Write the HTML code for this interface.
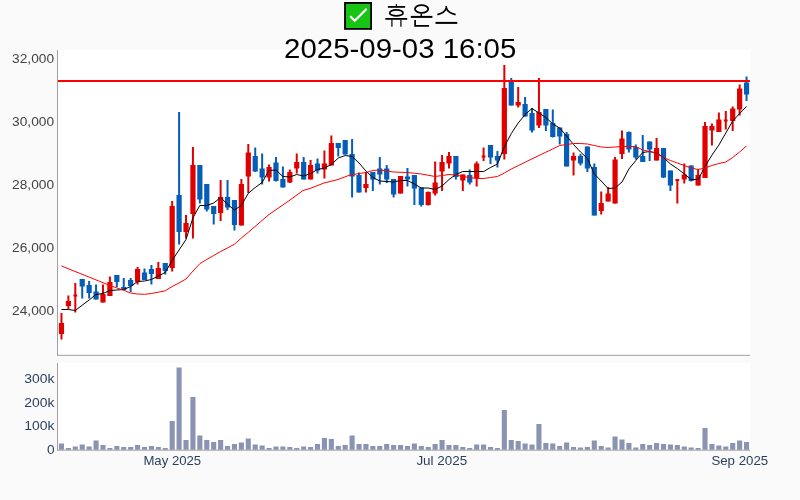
<!DOCTYPE html>
<html lang="ko"><head><meta charset="utf-8"><title>휴온스 2025-09-03 16:05</title>
<style>
html,body{margin:0;padding:0;background:#fafafa;}
body{width:800px;height:500px;overflow:hidden;font-family:"Liberation Sans",sans-serif;}
svg{display:block;will-change:transform;}
text{font-family:"Liberation Sans",sans-serif;}
.yt{font-size:12.7px;fill:#444;text-anchor:end;}
.vt{font-size:12.7px;fill:#2a3f5f;text-anchor:end;}
.xt{font-size:12.7px;fill:#2a3f5f;text-anchor:middle;}
.tt{font-size:27.5px;fill:#000;text-anchor:middle;}
</style></head><body>
<svg width="800" height="500" viewBox="0 0 800 500">
<rect x="0" y="0" width="800" height="500" fill="#fafafa"/>
<rect x="58" y="50" width="692" height="305" fill="#fff"/>
<rect x="58" y="363" width="692" height="87" fill="#fff"/>
<g fill="#8a93b1">
<rect x="58.91" y="443.5" width="5.1" height="6.3"/>
<rect x="65.83" y="448" width="5.1" height="1.8"/>
<rect x="72.75" y="446.5" width="5.1" height="3.3"/>
<rect x="79.67" y="444.5" width="5.1" height="5.3"/>
<rect x="86.59" y="446.5" width="5.1" height="3.3"/>
<rect x="93.51" y="440.5" width="5.1" height="9.3"/>
<rect x="100.43" y="445" width="5.1" height="4.8"/>
<rect x="107.35" y="448" width="5.1" height="1.8"/>
<rect x="114.27" y="446" width="5.1" height="3.8"/>
<rect x="121.19" y="447" width="5.1" height="2.8"/>
<rect x="128.11" y="447" width="5.1" height="2.8"/>
<rect x="135.03" y="445" width="5.1" height="4.8"/>
<rect x="141.95" y="447" width="5.1" height="2.8"/>
<rect x="148.87" y="446" width="5.1" height="3.8"/>
<rect x="155.79" y="447" width="5.1" height="2.8"/>
<rect x="162.71" y="448" width="5.1" height="1.8"/>
<rect x="169.63" y="421" width="5.1" height="28.8"/>
<rect x="176.55" y="367.5" width="5.1" height="82.3"/>
<rect x="183.47" y="440" width="5.1" height="9.8"/>
<rect x="190.39" y="397" width="5.1" height="52.8"/>
<rect x="197.31" y="435.5" width="5.1" height="14.3"/>
<rect x="204.23" y="440" width="5.1" height="9.8"/>
<rect x="211.15" y="442" width="5.1" height="7.8"/>
<rect x="218.07" y="440" width="5.1" height="9.8"/>
<rect x="224.99" y="446" width="5.1" height="3.8"/>
<rect x="231.91" y="444" width="5.1" height="5.8"/>
<rect x="238.83" y="442.5" width="5.1" height="7.3"/>
<rect x="245.75" y="438.5" width="5.1" height="11.3"/>
<rect x="252.67" y="444.5" width="5.1" height="5.3"/>
<rect x="259.59" y="445.5" width="5.1" height="4.3"/>
<rect x="266.51" y="448" width="5.1" height="1.8"/>
<rect x="273.43" y="446.5" width="5.1" height="3.3"/>
<rect x="280.35" y="446.5" width="5.1" height="3.3"/>
<rect x="287.27" y="447" width="5.1" height="2.8"/>
<rect x="294.19" y="448" width="5.1" height="1.8"/>
<rect x="301.11" y="446.5" width="5.1" height="3.3"/>
<rect x="308.03" y="447" width="5.1" height="2.8"/>
<rect x="314.95" y="444" width="5.1" height="5.8"/>
<rect x="321.87" y="438" width="5.1" height="11.8"/>
<rect x="328.79" y="439" width="5.1" height="10.8"/>
<rect x="335.71" y="446" width="5.1" height="3.8"/>
<rect x="342.63" y="445" width="5.1" height="4.8"/>
<rect x="349.55" y="435.5" width="5.1" height="14.3"/>
<rect x="356.47" y="444" width="5.1" height="5.8"/>
<rect x="363.39" y="444" width="5.1" height="5.8"/>
<rect x="370.31" y="446" width="5.1" height="3.8"/>
<rect x="377.23" y="446" width="5.1" height="3.8"/>
<rect x="384.15" y="444" width="5.1" height="5.8"/>
<rect x="391.07" y="445" width="5.1" height="4.8"/>
<rect x="397.99" y="445" width="5.1" height="4.8"/>
<rect x="404.91" y="446" width="5.1" height="3.8"/>
<rect x="411.83" y="443.5" width="5.1" height="6.3"/>
<rect x="418.75" y="446" width="5.1" height="3.8"/>
<rect x="425.67" y="447" width="5.1" height="2.8"/>
<rect x="432.59" y="444" width="5.1" height="5.8"/>
<rect x="439.51" y="440" width="5.1" height="9.8"/>
<rect x="446.43" y="445" width="5.1" height="4.8"/>
<rect x="453.35" y="445" width="5.1" height="4.8"/>
<rect x="460.27" y="447" width="5.1" height="2.8"/>
<rect x="467.19" y="448" width="5.1" height="1.8"/>
<rect x="474.11" y="444.5" width="5.1" height="5.3"/>
<rect x="481.03" y="444.5" width="5.1" height="5.3"/>
<rect x="487.95" y="447" width="5.1" height="2.8"/>
<rect x="494.87" y="448" width="5.1" height="1.8"/>
<rect x="501.79" y="410" width="5.1" height="39.8"/>
<rect x="508.71" y="440" width="5.1" height="9.8"/>
<rect x="515.63" y="441" width="5.1" height="8.8"/>
<rect x="522.55" y="443.5" width="5.1" height="6.3"/>
<rect x="529.47" y="444.5" width="5.1" height="5.3"/>
<rect x="536.39" y="424" width="5.1" height="25.8"/>
<rect x="543.31" y="443" width="5.1" height="6.8"/>
<rect x="550.23" y="443.5" width="5.1" height="6.3"/>
<rect x="557.15" y="446" width="5.1" height="3.8"/>
<rect x="564.07" y="442.5" width="5.1" height="7.3"/>
<rect x="570.99" y="447" width="5.1" height="2.8"/>
<rect x="577.91" y="447.5" width="5.1" height="2.3"/>
<rect x="584.83" y="447" width="5.1" height="2.8"/>
<rect x="591.75" y="440.5" width="5.1" height="9.3"/>
<rect x="598.67" y="446" width="5.1" height="3.8"/>
<rect x="605.59" y="447.5" width="5.1" height="2.3"/>
<rect x="612.51" y="436.5" width="5.1" height="13.3"/>
<rect x="619.43" y="439.5" width="5.1" height="10.3"/>
<rect x="626.35" y="443" width="5.1" height="6.8"/>
<rect x="633.27" y="447.5" width="5.1" height="2.3"/>
<rect x="640.19" y="444" width="5.1" height="5.8"/>
<rect x="647.11" y="445" width="5.1" height="4.8"/>
<rect x="654.03" y="443" width="5.1" height="6.8"/>
<rect x="660.95" y="444" width="5.1" height="5.8"/>
<rect x="667.87" y="444.5" width="5.1" height="5.3"/>
<rect x="674.79" y="445" width="5.1" height="4.8"/>
<rect x="681.71" y="446.5" width="5.1" height="3.3"/>
<rect x="688.63" y="447.5" width="5.1" height="2.3"/>
<rect x="695.55" y="448" width="5.1" height="1.8"/>
<rect x="702.47" y="428" width="5.1" height="21.8"/>
<rect x="709.39" y="444" width="5.1" height="5.8"/>
<rect x="716.31" y="445.5" width="5.1" height="4.3"/>
<rect x="723.23" y="446.5" width="5.1" height="3.3"/>
<rect x="730.15" y="443" width="5.1" height="6.8"/>
<rect x="737.07" y="440.5" width="5.1" height="9.3"/>
<rect x="743.99" y="442" width="5.1" height="7.8"/>
</g>
<g fill="#e00000">
<rect x="60.46" y="313" width="2" height="26.5"/><rect x="58.86" y="323" width="5.2" height="11"/>
<rect x="67.38" y="295.5" width="2" height="13.5"/><rect x="65.78" y="301" width="5.2" height="5"/>
<rect x="74.3" y="283" width="2" height="29.5"/><rect x="73.4" y="294.5" width="3.8" height="2"/>
<rect x="101.98" y="284.5" width="2" height="18"/><rect x="100.38" y="294" width="5.2" height="8.5"/>
<rect x="108.9" y="276.5" width="2" height="19.5"/><rect x="107.3" y="282" width="5.2" height="14"/>
<rect x="136.58" y="267" width="2" height="17.5"/><rect x="134.98" y="269" width="5.2" height="13"/>
<rect x="157.34" y="262" width="2" height="17"/><rect x="155.74" y="268" width="5.2" height="11"/>
<rect x="171.18" y="201" width="2" height="70.5"/><rect x="169.58" y="206" width="5.2" height="62"/>
<rect x="185.02" y="215" width="2" height="23.5"/><rect x="183.42" y="223" width="5.2" height="9"/>
<rect x="191.94" y="147" width="2" height="91.5"/><rect x="190.34" y="165" width="5.2" height="49"/>
<rect x="219.62" y="180" width="2" height="41"/><rect x="218.02" y="197" width="5.2" height="16"/>
<rect x="240.38" y="179" width="2" height="46.5"/><rect x="238.78" y="184" width="5.2" height="41.5"/>
<rect x="247.3" y="144" width="2" height="49"/><rect x="245.7" y="152.5" width="5.2" height="24"/>
<rect x="268.06" y="164.5" width="2" height="17"/><rect x="266.46" y="167" width="5.2" height="10.5"/>
<rect x="288.82" y="169.5" width="2" height="13.5"/><rect x="287.22" y="172" width="5.2" height="10.5"/>
<rect x="295.74" y="153.5" width="2" height="20"/><rect x="294.14" y="162" width="5.2" height="6.5"/>
<rect x="309.58" y="160" width="2" height="19.5"/><rect x="307.98" y="165" width="5.2" height="14.5"/>
<rect x="323.42" y="150.5" width="2" height="28"/><rect x="321.82" y="163.5" width="5.2" height="6"/>
<rect x="330.34" y="135.5" width="2" height="30"/><rect x="328.74" y="143" width="5.2" height="22.5"/>
<rect x="364.94" y="172" width="2" height="20.5"/><rect x="363.34" y="184" width="5.2" height="4"/>
<rect x="399.54" y="176" width="2" height="17.5"/><rect x="397.94" y="176" width="5.2" height="17.5"/>
<rect x="427.22" y="191.5" width="2" height="14"/><rect x="425.62" y="192" width="5.2" height="13"/>
<rect x="434.14" y="161.5" width="2" height="34"/><rect x="432.54" y="182.5" width="5.2" height="11"/>
<rect x="441.06" y="155" width="2" height="36"/><rect x="439.46" y="162" width="5.2" height="9.5"/>
<rect x="447.98" y="152" width="2" height="16.5"/><rect x="446.38" y="156" width="5.2" height="7.5"/>
<rect x="461.82" y="174.5" width="2" height="16.5"/><rect x="460.22" y="174.5" width="5.2" height="6"/>
<rect x="475.66" y="161.5" width="2" height="25"/><rect x="474.06" y="163.5" width="5.2" height="14.5"/>
<rect x="482.58" y="147.5" width="2" height="13.5"/><rect x="481.68" y="155.5" width="3.8" height="2"/>
<rect x="503.34" y="65" width="2" height="94.5"/><rect x="501.74" y="88" width="5.2" height="66"/>
<rect x="517.18" y="87" width="2" height="20.5"/><rect x="515.58" y="102" width="5.2" height="3.5"/>
<rect x="537.94" y="78" width="2" height="50"/><rect x="536.34" y="112" width="5.2" height="13.5"/>
<rect x="572.54" y="152.5" width="2" height="23"/><rect x="570.94" y="156" width="5.2" height="4.5"/>
<rect x="600.22" y="191.5" width="2" height="23"/><rect x="598.62" y="203" width="5.2" height="8"/>
<rect x="607.14" y="187" width="2" height="14.5"/><rect x="605.54" y="193.5" width="5.2" height="8"/>
<rect x="614.06" y="157" width="2" height="46.5"/><rect x="612.46" y="159.5" width="5.2" height="44"/>
<rect x="620.98" y="130.5" width="2" height="28.5"/><rect x="619.38" y="138.5" width="5.2" height="15.5"/>
<rect x="655.58" y="138" width="2" height="22.5"/><rect x="653.98" y="148" width="5.2" height="12.5"/>
<rect x="676.34" y="179" width="2" height="24.5"/><rect x="675.44" y="179" width="3.8" height="2"/>
<rect x="683.26" y="163.5" width="2" height="20"/><rect x="681.66" y="174.5" width="5.2" height="5"/>
<rect x="697.1" y="169" width="2" height="16.5"/><rect x="695.5" y="175" width="5.2" height="10.5"/>
<rect x="704.02" y="122" width="2" height="56"/><rect x="702.42" y="126" width="5.2" height="52"/>
<rect x="710.94" y="123.5" width="2" height="22"/><rect x="709.34" y="126" width="5.2" height="4.5"/>
<rect x="717.86" y="112.5" width="2" height="19.5"/><rect x="716.26" y="119.5" width="5.2" height="12.5"/>
<rect x="724.78" y="111" width="2" height="18.5"/><rect x="723.88" y="119.5" width="3.8" height="2"/>
<rect x="731.7" y="106.5" width="2" height="24.5"/><rect x="730.1" y="108.5" width="5.2" height="12.5"/>
<rect x="738.62" y="84.5" width="2" height="31"/><rect x="737.02" y="88.5" width="5.2" height="21"/>
</g>
<g fill="#065db8">
<rect x="81.22" y="279" width="2" height="19.5"/><rect x="79.62" y="279" width="5.2" height="7.5"/>
<rect x="88.14" y="281" width="2" height="17.5"/><rect x="86.54" y="285" width="5.2" height="8"/>
<rect x="95.06" y="284.5" width="2" height="15"/><rect x="93.46" y="291.5" width="5.2" height="8"/>
<rect x="115.82" y="275" width="2" height="12"/><rect x="114.22" y="275" width="5.2" height="7"/>
<rect x="122.74" y="278" width="2" height="12"/><rect x="121.14" y="287" width="5.2" height="3"/>
<rect x="129.66" y="278" width="2" height="14"/><rect x="128.06" y="280" width="5.2" height="6"/>
<rect x="143.5" y="268.5" width="2" height="11.5"/><rect x="141.9" y="272.5" width="5.2" height="7.5"/>
<rect x="150.42" y="265" width="2" height="19.5"/><rect x="148.82" y="269" width="5.2" height="5"/>
<rect x="164.26" y="263" width="2" height="11.5"/><rect x="162.66" y="263" width="5.2" height="8"/>
<rect x="178.1" y="112" width="2" height="132.5"/><rect x="176.5" y="195" width="5.2" height="37"/>
<rect x="198.86" y="165" width="2" height="38.5"/><rect x="197.26" y="165" width="5.2" height="34.5"/>
<rect x="205.78" y="184" width="2" height="27.5"/><rect x="204.18" y="184" width="5.2" height="25.5"/>
<rect x="212.7" y="206" width="2" height="18.5"/><rect x="211.1" y="206" width="5.2" height="8"/>
<rect x="226.54" y="180" width="2" height="30"/><rect x="224.94" y="197" width="5.2" height="10.5"/>
<rect x="233.46" y="200" width="2" height="30.5"/><rect x="231.86" y="200" width="5.2" height="25"/>
<rect x="254.22" y="147.5" width="2" height="24.5"/><rect x="252.62" y="156" width="5.2" height="15.5"/>
<rect x="261.14" y="153.5" width="2" height="31"/><rect x="259.54" y="168.5" width="5.2" height="9"/>
<rect x="274.98" y="157" width="2" height="24.5"/><rect x="273.38" y="162.5" width="5.2" height="18.5"/>
<rect x="281.9" y="166.5" width="2" height="21"/><rect x="280.3" y="179" width="5.2" height="8.5"/>
<rect x="302.66" y="157" width="2" height="22.5"/><rect x="301.06" y="162" width="5.2" height="17.5"/>
<rect x="316.5" y="158.5" width="2" height="15"/><rect x="314.9" y="163.5" width="5.2" height="7"/>
<rect x="337.26" y="143" width="2" height="13.5"/><rect x="335.66" y="143" width="5.2" height="5"/>
<rect x="344.18" y="140" width="2" height="14.5"/><rect x="342.58" y="140" width="5.2" height="14.5"/>
<rect x="351.1" y="139" width="2" height="58.5"/><rect x="349.5" y="154" width="5.2" height="22.5"/>
<rect x="358.02" y="172.5" width="2" height="20"/><rect x="356.42" y="175" width="5.2" height="17.5"/>
<rect x="371.86" y="172" width="2" height="19"/><rect x="370.26" y="172" width="5.2" height="7.5"/>
<rect x="378.78" y="157" width="2" height="27.5"/><rect x="377.18" y="168.5" width="5.2" height="6"/>
<rect x="385.7" y="165" width="2" height="18"/><rect x="384.1" y="168.5" width="5.2" height="11"/>
<rect x="392.62" y="179" width="2" height="18.5"/><rect x="391.02" y="179" width="5.2" height="15.5"/>
<rect x="406.46" y="168" width="2" height="18.5"/><rect x="404.86" y="176.5" width="5.2" height="3"/>
<rect x="413.38" y="175" width="2" height="30"/><rect x="411.78" y="175" width="5.2" height="13.5"/>
<rect x="420.3" y="187.5" width="2" height="19"/><rect x="418.7" y="187.5" width="5.2" height="17.5"/>
<rect x="454.9" y="156" width="2" height="23.5"/><rect x="453.3" y="156" width="5.2" height="21"/>
<rect x="468.74" y="169.5" width="2" height="15"/><rect x="467.14" y="175" width="5.2" height="7.5"/>
<rect x="489.5" y="145" width="2" height="19"/><rect x="487.9" y="145" width="5.2" height="12.5"/>
<rect x="496.42" y="151" width="2" height="16.5"/><rect x="494.82" y="156" width="5.2" height="4.5"/>
<rect x="510.26" y="78" width="2" height="27.5"/><rect x="508.66" y="82" width="5.2" height="23.5"/>
<rect x="524.1" y="97" width="2" height="19.5"/><rect x="522.5" y="104" width="5.2" height="12.5"/>
<rect x="531.02" y="108" width="2" height="24.5"/><rect x="529.42" y="113" width="5.2" height="17.5"/>
<rect x="544.86" y="109" width="2" height="22"/><rect x="543.26" y="109" width="5.2" height="16.5"/>
<rect x="551.78" y="109.5" width="2" height="28"/><rect x="550.18" y="123" width="5.2" height="14"/>
<rect x="558.7" y="127.5" width="2" height="17"/><rect x="557.1" y="127.5" width="5.2" height="9"/>
<rect x="565.62" y="132" width="2" height="34.5"/><rect x="564.02" y="134" width="5.2" height="32.5"/>
<rect x="579.46" y="154" width="2" height="11.5"/><rect x="577.86" y="156" width="5.2" height="7.5"/>
<rect x="586.38" y="146.5" width="2" height="25.5"/><rect x="584.78" y="146.5" width="5.2" height="22"/>
<rect x="593.3" y="163.5" width="2" height="52"/><rect x="591.7" y="167" width="5.2" height="48.5"/>
<rect x="627.9" y="131.5" width="2" height="21"/><rect x="626.3" y="132" width="5.2" height="17.5"/>
<rect x="634.82" y="144.5" width="2" height="15"/><rect x="633.22" y="147" width="5.2" height="10.5"/>
<rect x="641.74" y="135" width="2" height="27"/><rect x="640.14" y="156" width="5.2" height="6"/>
<rect x="648.66" y="141.5" width="2" height="19.5"/><rect x="647.06" y="141.5" width="5.2" height="8"/>
<rect x="662.5" y="148" width="2" height="30"/><rect x="660.9" y="148" width="5.2" height="29.5"/>
<rect x="669.42" y="170.5" width="2" height="20.5"/><rect x="667.82" y="170.5" width="5.2" height="15"/>
<rect x="690.18" y="165.5" width="2" height="16"/><rect x="688.58" y="165.5" width="5.2" height="15.5"/>
<rect x="745.54" y="76.5" width="2" height="24.5"/><rect x="743.94" y="82.5" width="5.2" height="12"/>
</g>
<polyline points="61.5,309.5 68.4,309.5 75.3,310.5 82.2,305.2 89.1,300 96,294.5 103,293.5 109.9,290.5 116.8,290 123.7,289.5 130.6,286.5 137.5,281.5 144.5,281 151.4,279.5 158.3,276 165.2,272.5 172.1,260.5 179,250 186,239.5 192.9,218 199.8,205.5 206.7,205.5 213.7,203 220.6,197.5 227.5,204.3 234.4,210 241.4,205.3 248.3,193.3 255.2,187.5 262.1,182.5 269,170.5 276,170 282.9,176.5 289.8,177 296.7,174.5 303.7,176 310.6,173.5 317.5,169.5 324.4,168 331.3,164.5 338.3,158 345.2,155.5 352.1,156.5 359,163 365.9,171 372.9,177.5 379.8,181 386.7,181.5 393.6,182 400.5,180.5 407.5,180.5 414.4,184 421.3,188 428.2,188 435.1,189.5 442.1,186 449,179.5 455.9,174.5 462.8,171.5 469.7,171.5 476.7,171.5 483.6,171.5 490.5,167.5 497.4,164 504.3,147 511.3,133.5 518.2,123 525.2,114.5 532,108.5 539,113 545.9,117.5 552.8,124 559.7,128 566.6,136 573.5,144.5 580.5,152 587.4,158.5 594.3,174 601.2,181 608.1,188.5 615.1,188 622,182 628.9,169 635.8,160.5 642.7,152.5 649.7,151.5 656.6,153 663.5,157.5 670.4,164 677.3,168.5 684.3,174 691.2,179.5 698.1,179.5 705,166.5 712,155 718.9,145 725.8,133 732.7,121 739.6,113.5 746.5,106.5" fill="none" stroke="#000" stroke-width="1" stroke-linejoin="round"/>
<polyline points="61.5,266 110,285.5 123.7,290.3 130.6,293 137.5,294 144.5,294.3 151.4,293.5 158.3,292.2 165.2,290.8 172.1,286.5 179,283 186,279 193,271 200,263.5 206.7,259.5 213.7,255.5 220.6,251.5 227.5,248 234.4,244.2 241.4,238 248.3,232.3 269,214.5 290,200 303,190.5 310,188.5 324,183 338,179.5 350,175 365.9,172.5 372.9,170.5 379.8,170 386.7,171 393.6,172 407.5,172.5 421.3,174 435.1,176.5 442.1,175.5 449,174.5 455.9,175 462.8,176.5 469.7,177.5 476.7,178.5 483.6,178.5 490.5,177.5 497.4,176.5 504.3,173 511.3,169 518.2,165.6 525.2,162.2 532,158.9 539,155.5 545.9,152.2 552.8,148.9 559.7,145.5 566.6,144.5 573.5,143.5 580.5,143.5 587.4,144 594.3,145.5 601.2,147 608.1,147.5 615.1,147 622,146.5 628.9,146.5 635.8,146.5 642.7,150 649.7,151.5 656.6,153.5 663.5,157.5 670.4,160.5 677.3,163 684.3,165.5 691.2,168 698.1,169.5 705,168 711.9,165.5 718.9,163.5 725.8,162 732.7,157.5 739.6,152 746.5,146" fill="none" stroke="#ff0000" stroke-width="1" stroke-linejoin="round"/>
<rect x="58" y="80" width="692" height="2" fill="#ff0000"/>
<g fill="#a0a0a0">
<rect x="57" y="50" width="1" height="305.8"/>
<rect x="57" y="354.8" width="693" height="1"/>
<rect x="57" y="363" width="1" height="87.7"/>
<rect x="57" y="449.7" width="693" height="1"/>
</g>
<text class="yt" x="54.1" y="63" textLength="42" lengthAdjust="spacingAndGlyphs">32,000</text>
<text class="yt" x="54.1" y="126" textLength="42" lengthAdjust="spacingAndGlyphs">30,000</text>
<text class="yt" x="54.1" y="189" textLength="42" lengthAdjust="spacingAndGlyphs">28,000</text>
<text class="yt" x="54.1" y="252" textLength="42" lengthAdjust="spacingAndGlyphs">26,000</text>
<text class="yt" x="54.1" y="315" textLength="42" lengthAdjust="spacingAndGlyphs">24,000</text>
<text class="vt" x="54.5" y="383" textLength="30.2" lengthAdjust="spacingAndGlyphs">300k</text>
<text class="vt" x="54.5" y="406.5" textLength="30.2" lengthAdjust="spacingAndGlyphs">200k</text>
<text class="vt" x="54.5" y="430" textLength="30.2" lengthAdjust="spacingAndGlyphs">100k</text>
<text class="vt" x="54.5" y="454" textLength="7.6" lengthAdjust="spacingAndGlyphs">0</text>
<text class="xt" x="172.3" y="464.5" textLength="57.8" lengthAdjust="spacingAndGlyphs">May 2025</text>
<text class="xt" x="441.8" y="464.5" textLength="50.8" lengthAdjust="spacingAndGlyphs">Jul 2025</text>
<text class="xt" x="739.8" y="464.5" textLength="56.8" lengthAdjust="spacingAndGlyphs">Sep 2025</text>
<text class="tt" x="400.2" y="57.8" textLength="232.2" lengthAdjust="spacingAndGlyphs">2025-09-03 16:05</text>
<g role="img" aria-label="✅ 휴온스"><title>✅ 휴온스</title>
<rect x="343.6" y="1.5" width="28.9" height="28.8" fill="#fff" opacity="0.8"/>
<rect x="344.1" y="2" width="27.9" height="27.8" fill="#000"/>
<rect x="346" y="3.9" width="24.2" height="24.1" fill="#18c414"/>
<polyline points="350.75,16.75 354.75,20.75 366,9.5" fill="none" stroke="#fff" stroke-width="2.2" stroke-linecap="round" stroke-linejoin="miter"/>
<g fill="none" stroke="#000" stroke-width="1.8" stroke-linecap="butt">
<path d="M396.4 4.1V6.5" stroke-width="1.3"/>
<path d="M387.9 6.9H405.1"/>
<ellipse cx="396.4" cy="12.9" rx="6.65" ry="3.05" stroke-width="1.7"/>
<path d="M385.3 18.9H407.2"/>
<path d="M391.9 19.5V26.7M400.9 19.5V26.7" stroke-width="1.4" stroke="#222"/>
<ellipse cx="421.6" cy="9" rx="6.6" ry="3.9"/>
<path d="M421.3 13.5V16.2" stroke-width="1.5"/>
<path d="M410.8 16.9H432.4" stroke-width="2"/>
<path d="M415.1 20.1V25.8H429.1" stroke-width="1.7" stroke-linejoin="miter"/>
<path d="M446.3 6V8.5" stroke-width="1.6"/>
<path d="M446.3 8C445.3 11.2 441.5 13.6 437.4 14.6M446.3 8C447.3 11.2 451.3 13.6 455.6 14.6" stroke-width="1.7"/>
<path d="M435.5 22.9H457.3" stroke-width="2"/>
</g></g>
</svg>
</body></html>
